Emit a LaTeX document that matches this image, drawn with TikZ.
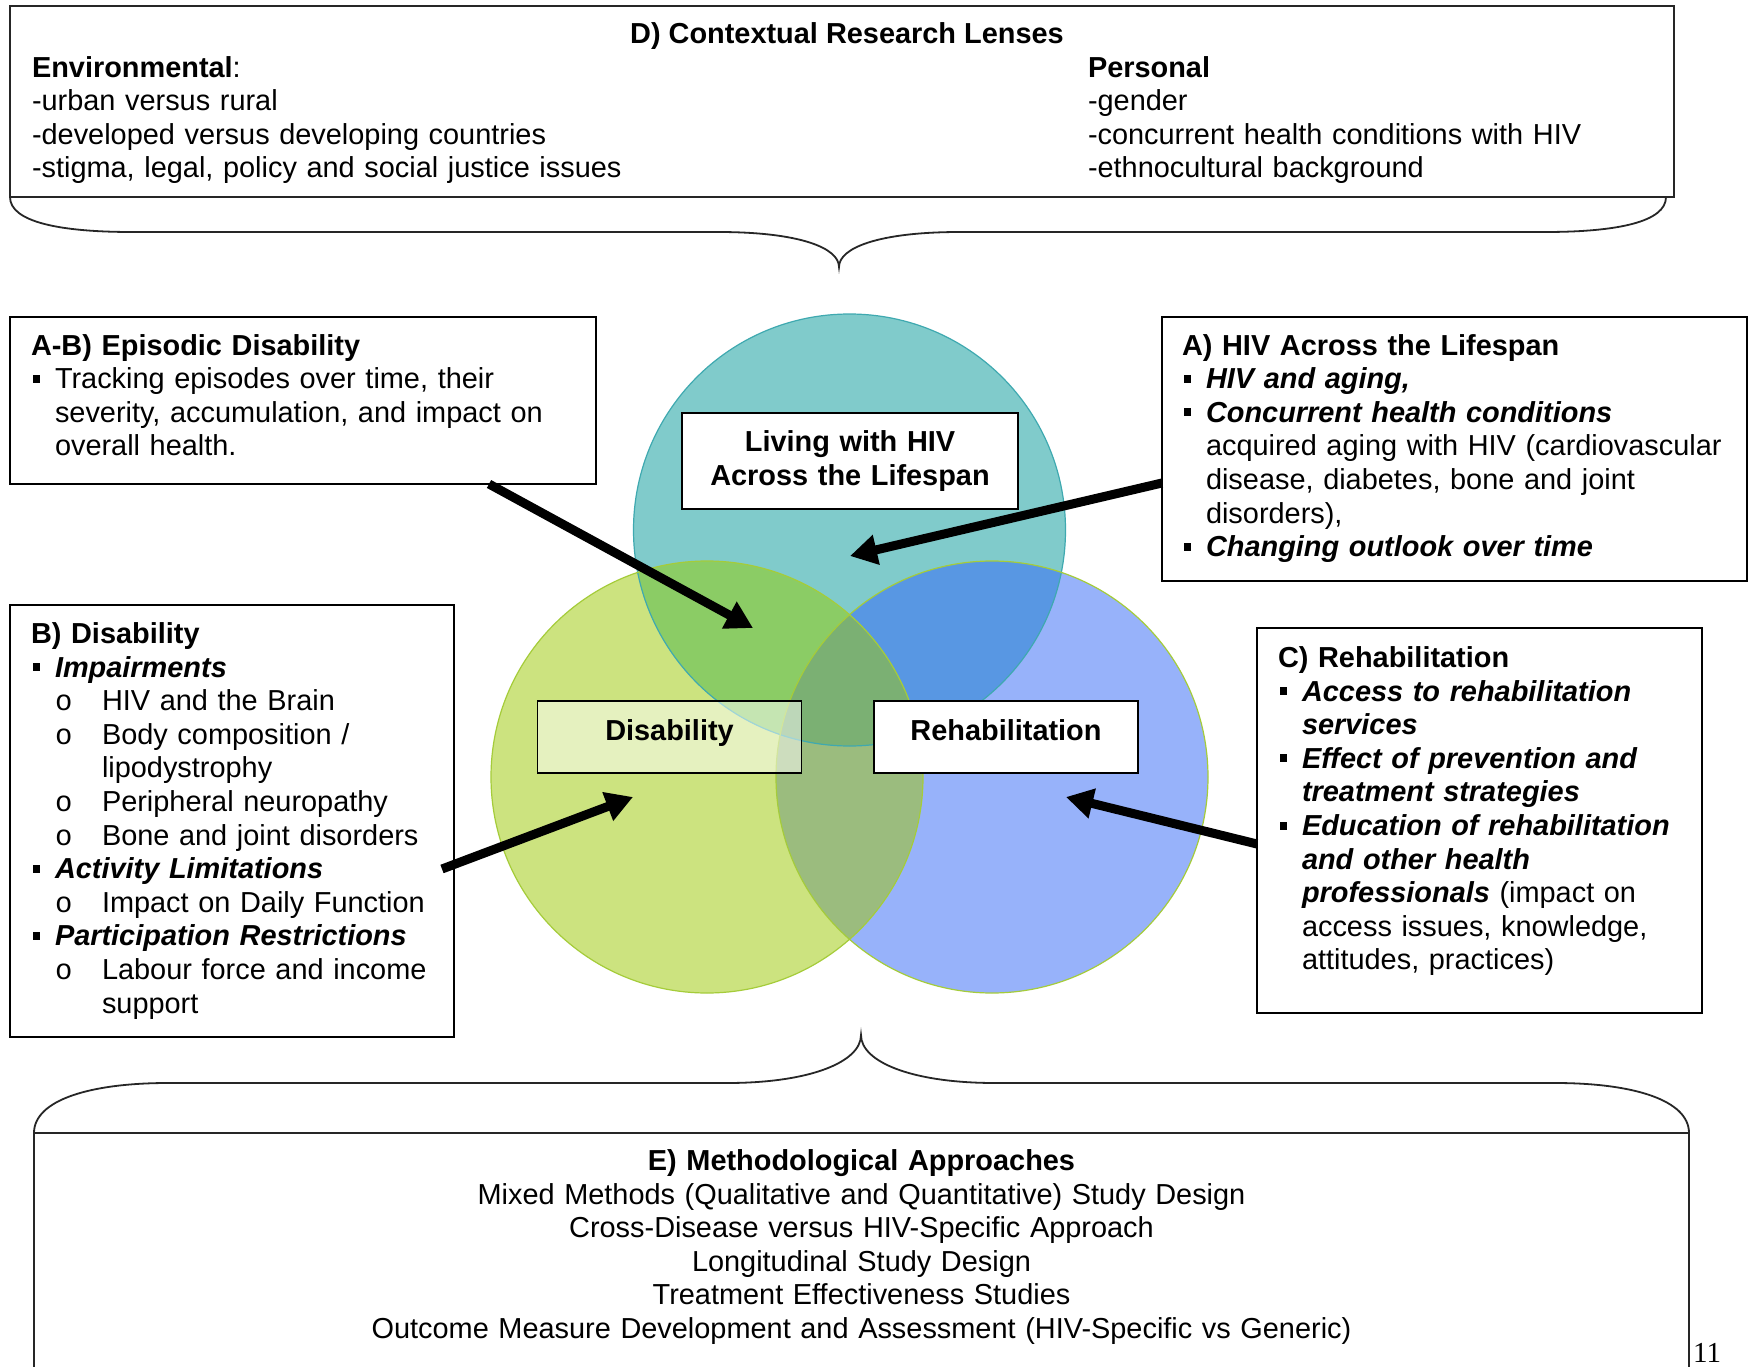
\documentclass[tikz,border=0pt]{standalone}
\usepackage{fontspec}
\setmainfont{Liberation Sans}
\setmonofont{Liberation Mono}
\newfontfamily\pgnumfont{Liberation Serif}
\usetikzlibrary{calc,arrows.meta}
\setlength\parindent{0pt}
\newcommand\bodyfont{\fontsize{28.9}{33.6}\selectfont}
\newcommand\sqb{\hspace*{2pt}\makebox[22pt][l]{\rule[6pt]{7pt}{8pt}}}
\newcommand\ob{\hspace*{24pt}\makebox[47pt][l]{\texttt{o}}}
\newcommand\ind[1]{\hspace*{#1}}
\newcommand\bi[1]{\textbf{\textit{#1}}}
\definecolor{cTop}{HTML}{80CBCB}
\definecolor{cLeft}{HTML}{CCE37F}
\definecolor{cRight}{HTML}{97B2FA}
\definecolor{cTL}{HTML}{8BCC65}
\definecolor{cTR}{HTML}{5897E3}
\definecolor{cLR}{HTML}{9BBC7E}
\definecolor{cTLR}{HTML}{7BB073}
\definecolor{eTop}{HTML}{3FA9B0}
\definecolor{eGreen}{HTML}{A5CC3A}
\begin{document}
\begin{tikzpicture}[x=1pt,y=-1pt,
  box/.style={draw=black,line width=1.8pt,inner sep=0pt,outer sep=0pt,anchor=north west},
  txt/.style={inner sep=0pt,outer sep=0pt,anchor=north west,align=left,text width=#1,font=\bodyfont},
  ctxt/.style={inner sep=0pt,outer sep=0pt,anchor=north,align=center,text width=#1,font=\bodyfont},
  lbl/.style={inner sep=0pt,outer sep=0pt,anchor=base,font=\bodyfont\bfseries},
  arr/.style={line width=9pt,-{Triangle[length=27pt,width=29pt]}},
  brace/.style={line width=1.8pt,black!85},
  R/.style={radius=216pt}]
\useasboundingbox (0,0) rectangle (1754,1367);
\fill[white] (0,0) rectangle (1754,1367);

% circles
\coordinate (cT) at (849.5,530);
\coordinate (cL) at (707,777);
\coordinate (cR) at (992,777);
\fill[cTop] (cT) circle[R];
\fill[cLeft] (cL) circle[R];
\fill[cRight] (cR) circle[R];
\begin{scope}
  \clip (cT) circle[R];
  \fill[cTL] (cL) circle[R];
  \fill[cTR] (cR) circle[R];
\end{scope}
\begin{scope}
  \clip (cL) circle[R];
  \fill[cLR] (cR) circle[R];
\end{scope}
\begin{scope}
  \clip (cT) circle[R];
  \clip (cL) circle[R];
  \fill[cTLR] (cR) circle[R];
\end{scope}
\draw[eTop,line width=1.2pt] (cT) circle[R];
\draw[eGreen,line width=1.2pt] (cL) circle[R];
\draw[eGreen,line width=1.2pt] (cR) circle[R];

% labels in circles
\node[box,fill=white,minimum width=336pt,minimum height=96pt] (living) at (682,413) {};
\node[ctxt=400pt,font=\bodyfont\bfseries] (livingtxt) at (850,428) {\strut Living with HIV\\Across the Lifespan};
\node[box,fill=white,fill opacity=0.5,text opacity=1,minimum width=264pt,minimum height=72pt] (dis) at (537.5,701) {};
\node[lbl] (distxt) at (669.5,740) {Disability};
\node[box,fill=white,minimum width=264pt,minimum height=72pt] (reh) at (874,701) {};
\node[lbl] (rehtxt) at (1006,740) {Rehabilitation};

% D box
\node[box,draw=black!85,minimum width=1664pt,minimum height=191pt] (d) at (10,6) {};
\node[lbl] (dtitle) at (847,44) {D) Contextual Research Lenses};
\node[txt=900pt] (denv) at (32,53.5) {\strut\textbf{Environmental}:\\-urban versus rural\\-developed versus developing countries\\-stigma, legal, policy and social justice issues};
\node[txt=600pt] (dpers) at (1088,53.5) {\strut\textbf{Personal}\\-gender\\-concurrent health conditions with HIV\\-ethnocultural background};
\draw[brace] (d.south west) .. controls (10,222) and (60,232) .. (132,232) -- (718,232)
  .. controls (800,232) and (839,248) .. (839,267)
  .. controls (839,248) and (878,232) .. (960,232) -- (1545,232)
  .. controls (1617,232) and (1666,222) .. (1666,197);

% A-B box
\node[box,minimum width=586pt,minimum height=167pt] (ab) at (10,317) {};
\node[txt=600pt] (abtxt) at (31,331.5) {\strut\textbf{A-B) Episodic Disability}\\
\sqb Tracking episodes over time, their\\
\ind{24pt}severity, accumulation, and impact on\\
\ind{24pt}overall health.};

% B box
\node[box,minimum width=444pt,minimum height=432pt] (b) at (10,605) {};
\node[txt=600pt] (btxt) at (31,620) {\strut\textbf{B) Disability}\\
\sqb\bi{Impairments}\\
\ob HIV and the Brain\\
\ob Body composition /\\
\ind{71pt}lipodystrophy\\
\ob Peripheral neuropathy\\
\ob Bone and joint disorders\\
\sqb\bi{Activity Limitations}\\
\ob Impact on Daily Function\\
\sqb\bi{Participation Restrictions}\\
\ob Labour force and income\\
\ind{71pt}support};

% A box
\node[box,minimum width=585pt,minimum height=264pt] (a) at (1162,317) {};
\node[txt=600pt] (atxt) at (1182,331.5) {\strut\textbf{A) HIV Across the Lifespan}\\
\sqb\bi{HIV and aging,}\\
\sqb\bi{Concurrent health conditions}\\
\ind{24pt}acquired aging with HIV (cardiovascular\\
\ind{24pt}disease, diabetes, bone and joint\\
\ind{24pt}disorders),\\
\sqb\bi{Changing outlook over time}};

% C box
\node[box,minimum width=445pt,minimum height=385pt] (c) at (1257,628) {};
\node[txt=600pt] (ctxt) at (1278,644) {\strut\textbf{C) Rehabilitation}\\
\sqb\bi{Access to rehabilitation}\\
\ind{24pt}\bi{services}\\
\sqb\bi{Effect of prevention and}\\
\ind{24pt}\bi{treatment strategies}\\
\sqb\bi{Education of rehabilitation}\\
\ind{24pt}\bi{and other health}\\
\ind{24pt}\bi{professionals} (impact on\\
\ind{24pt}access issues, knowledge,\\
\ind{24pt}attitudes, practices)};

% arrows
\coordinate (t1) at (753,628);
\coordinate (t2) at (850,556);
\coordinate (t3) at (633,797);
\coordinate (t4) at (1066,797);
\draw[arr] ($(ab.south west)+(479,0)$) -- (t1);
\draw[arr] ($(a.north west)+(0,166)$) -- (t2);
\draw[arr] ($(b.north east)+(-12,264)$) -- (t3);
\draw[arr] ($(c.north west)+(0,216)$) -- (t4);

% E box
\coordinate (eL) at (34,1133);
\coordinate (eR) at (1689,1133);
\draw[brace] (34,1367) -- (eL) -- (eR) -- (1689,1367);
\draw[brace] (eL) .. controls (34,1100) and (90,1083) .. (168,1083) -- (727,1083)
  .. controls (810,1083) and (861,1062) .. (861,1035)
  .. controls (861,1062) and (912,1083) .. (995,1083) -- (1555,1083)
  .. controls (1633,1083) and (1689,1100) .. (eR);
\node[ctxt=1600pt] (etxt) at (861.5,1147) {\strut\textbf{E) Methodological Approaches}\\
Mixed Methods (Qualitative and Quantitative) Study Design\\
Cross-Disease versus HIV-Specific Approach\\
Longitudinal Study Design\\
Treatment Effectiveness Studies\\
Outcome Measure Development and Assessment (HIV-Specific vs Generic)};
\node[inner sep=0pt,anchor=base west,font=\pgnumfont\fontsize{29}{30}\selectfont] (pg) at (1693,1362) {11};
\end{tikzpicture}
\end{document}
